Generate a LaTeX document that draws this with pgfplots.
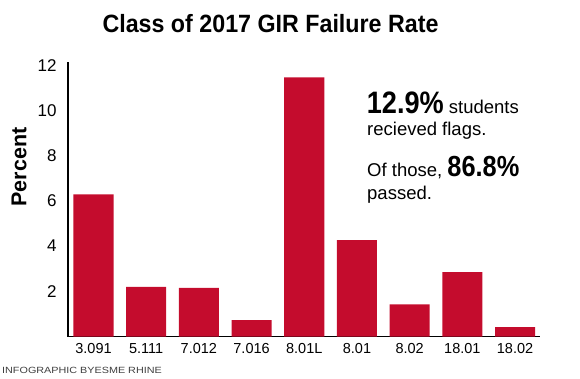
\documentclass[border=0pt]{standalone}
\usepackage{pgfplots}
\pgfplotsset{compat=1.18}
\usepackage{fontspec}
\setmainfont{Liberation Sans}
\definecolor{barred}{RGB}{196,12,45}
\begin{document}
\begin{tikzpicture}[x=1pt,y=1pt]
\useasboundingbox (-68,-41.5) rectangle (512,336.5);
\begin{axis}[
  at={(0,0)}, anchor=south west,
  scale only axis, width=472pt, height=274.5pt,
  xmin=-0.484, xmax=8.474, ymin=0, ymax=12.15,
  axis x line*=bottom, axis y line*=left,
  axis line style={line width=1.6pt, -},
  xtick=data,
  xticklabels={3.091,5.111,7.012,7.016,8.01L,8.01,8.02,18.01,18.02},
  ytick={2,4,6,8,10,12},
  major tick length=0pt,
  tick style={draw=none},
  /pgf/number format/assume math mode=true,
  xticklabel style={font=\fontsize{14.5}{15}\selectfont, yshift=-3pt},
  yticklabel style={font=\fontsize{17}{18}\selectfont, xshift=-8pt},
  ybar, bar width=0.76, bar shift=0pt,
  clip=false,
]
\addplot[fill=barred, draw=none] coordinates {
  (0,6.29) (1,2.2) (2,2.15) (3,0.72) (4,11.47) (5,4.27) (6,1.42) (7,2.85) (8,0.41)
};
\end{axis}
\node[anchor=base] at (202.5,303.5) {\scalebox{0.93}[1]{\fontsize{25}{26}\selectfont\bfseries Class of 2017 GIR Failure Rate}};
\node[rotate=90, inner sep=0pt] at (-49,169.5) {\fontsize{21.5}{22}\selectfont\bfseries Percent};
\node[anchor=base west, inner sep=0pt] at (298.7,223.2) {\scalebox{0.875}[1]{\fontsize{31}{31}\selectfont\bfseries 12.9\%}\fontsize{18.5}{20}\selectfont\ students};
\node[anchor=base west, inner sep=0pt] at (299,200.5) {\fontsize{18.5}{20}\selectfont recieved flags.};
\node[anchor=base west, inner sep=0pt] at (299,159.8) {\fontsize{18.5}{20}\selectfont Of those, \scalebox{0.875}[1]{\fontsize{29}{29}\selectfont\bfseries 86.8\%}};
\node[anchor=base west, inner sep=0pt] at (299,137.2) {\fontsize{18.5}{20}\selectfont passed.};
\node[anchor=base west, inner sep=0pt, text=black!75] at (-66,-36.5) {\scalebox{1.2}[1]{\fontsize{9}{10}\selectfont INFOGRAPHIC BYESME RHINE}};
\end{tikzpicture}
\end{document}
